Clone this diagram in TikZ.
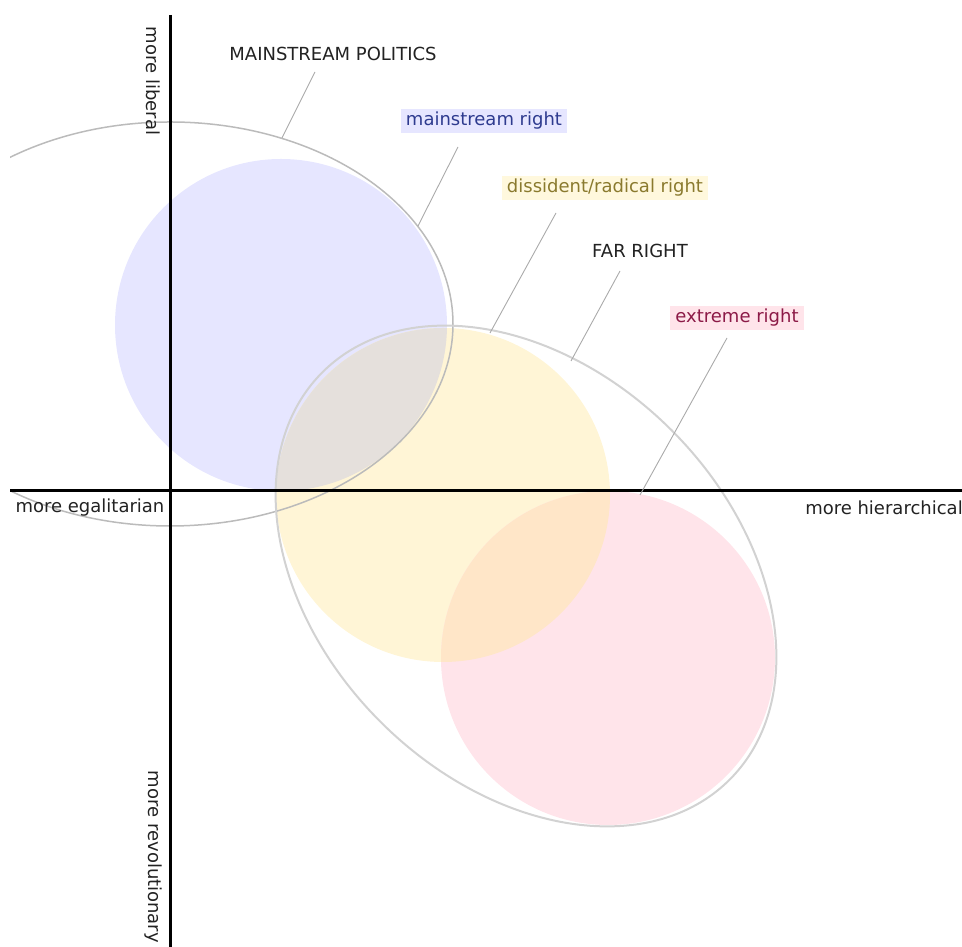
\documentclass[tikz,border=0pt]{standalone}
\usepackage{fontspec}
\setmainfont{DejaVu Sans}
\usepackage{tikz}
\usetikzlibrary{positioning}
\definecolor{msBlue}{HTML}{E6E6FF}
\definecolor{drYellow}{HTML}{FFF5D6}
\definecolor{erPink}{HTML}{FFE4EA}
\definecolor{mixGray}{HTML}{E5E0DC}
\definecolor{mixPeach}{HTML}{FFE6C8}
\definecolor{msText}{HTML}{2E3B8F}
\definecolor{drText}{HTML}{8A7A2E}
\definecolor{erText}{HTML}{8C1A47}
\definecolor{drBox}{HTML}{FFF8DD}
\definecolor{rimGray}{HTML}{BBBBBB}
\definecolor{rimLight}{HTML}{D2D2D2}
\definecolor{leadGray}{HTML}{AAAAAA}
\definecolor{inkDark}{HTML}{222222}

\begin{document}
\begin{tikzpicture}[
    x=1pt, y=1pt,
    lbl/.style={font=\fontsize{18}{22}\selectfont, text=inkDark, inner xsep=5pt, inner ysep=3pt},
    lead/.style={draw=leadGray, line width=0.9pt},
    axis/.style={line width=3pt, black}
  ]
  \useasboundingbox (0,0) rectangle (962,947);

  \fill[msBlue]   (281,622) circle (166);
  \fill[drYellow] (443,452) circle (167);
  \fill[erPink]   (608,289) circle (167);
  \begin{scope}
    \clip (281,622) circle (166);
    \fill[mixGray] (443,452) circle (167);
  \end{scope}
  \begin{scope}
    \clip (608,289) circle (167);
    \fill[mixPeach] (443,452) circle (167);
  \end{scope}

  \begin{scope}
    \clip (10,0) rectangle (962,947);
    \draw[rimGray, line width=1.5pt] (170,623) ellipse [x radius=283, y radius=202];
  \end{scope}
  \draw[rimLight, line width=2pt, rotate around={-45:(526,371)}] (526,371) ellipse [x radius=288, y radius=206];

  \draw[axis] (170,932) -- (170,0);
  \draw[axis] (10,456) -- (962,456);

  \node[lbl] (mp) at (333,893) {MAINSTREAM POLITICS};
  \node[lbl, fill=msBlue, text=msText] (mr) at (484,826) {mainstream right};
  \node[lbl, fill=drBox, text=drText] (dr) at (605,759) {dissident/radical right};
  \node[lbl] (fr) at (640,696) {FAR RIGHT};
  \node[lbl, fill=erPink, text=erText] (er) at (737,629) {extreme right};

  \node[lbl, rotate=-90] (lib) at (153,866) {more liberal};
  \node[lbl, rotate=-90] (rev) at (153,90) {more revolutionary};
  \node[lbl] (ega) at (90,439) {more egalitarian};
  \node[lbl] (hie) at (884,439) {more hierarchical};

  \coordinate (mpA) at (315,875);  \coordinate (mpB) at (282,809);
  \coordinate (mrA) at (458,800);  \coordinate (mrB) at (418,721);
  \coordinate (drA) at (556,734);  \coordinate (drB) at (490,614);
  \coordinate (frA) at (620,676);  \coordinate (frB) at (571,586);
  \coordinate (erA) at (727,609);  \coordinate (erB) at (640,452);

  \draw[lead] (mpA) -- (mpB);
  \draw[lead] (mrA) -- (mrB);
  \draw[lead] (drA) -- (drB);
  \draw[lead] (frA) -- (frB);
  \draw[lead] (erA) -- (erB);
\end{tikzpicture}
\end{document}
